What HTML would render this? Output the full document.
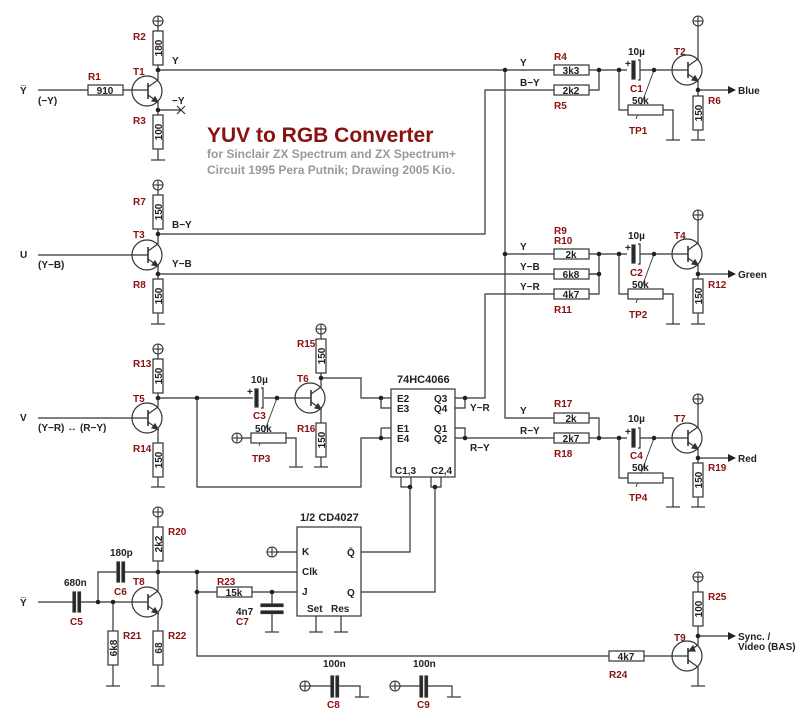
<!DOCTYPE html>
<html><head><meta charset="utf-8"><style>
html,body{margin:0;padding:0;background:#fff}
svg{display:block}
text{font-family:"Liberation Sans",Arial,sans-serif;font-weight:bold;font-size:10px;fill:#222}
.r{fill:#8b1010}
</style></head><body>
<svg width="805" height="719" viewBox="0 0 805 719" xmlns="http://www.w3.org/2000/svg">
<defs>
<g id="npn" stroke="#333" fill="none" stroke-width="1.2">
<circle cx="0" cy="0" r="15"/>
<line x1="1" y1="-8" x2="1" y2="8" stroke-width="1.6"/>
<polyline points="1,-4 11,-11 11,-20"/>
<polyline points="1,4 11,11 11,20"/>
<path d="M11,11 L5,10 L8,6 Z" fill="#333"/>
</g>
<g id="pnp" stroke="#333" fill="none" stroke-width="1.2">
<circle cx="0" cy="0" r="15"/>
<line x1="1" y1="-8" x2="1" y2="8" stroke-width="1.6"/>
<polyline points="1,-4 11,-11 11,-20"/>
<polyline points="1,4 11,11 11,30"/>
<path d="M2,-5 L8,-5 L6,-10 Z" fill="#333"/>
</g>
<g id="vcc" stroke="#333" fill="none" stroke-width="1.1">
<circle cx="0" cy="0" r="5"/><line x1="-5" y1="0" x2="5" y2="0"/><line x1="0" y1="-5" x2="0" y2="5"/>
</g>
<g id="rv" stroke="#333" fill="#fff" stroke-width="1.2"><rect x="-5" y="0" width="10" height="34"/></g>
<g id="rh" stroke="#333" fill="#fff" stroke-width="1.2"><rect x="0" y="-5" width="35" height="10"/></g>
<g id="gnd" stroke="#333" stroke-width="1.2"><line x1="-7" y1="0" x2="7" y2="0"/></g>
</defs>

<g stroke="#333" stroke-width="1.2" fill="none">
<line x1="158" y1="26" x2="158" y2="70"/>
<line x1="158" y1="110" x2="158" y2="160"/>
<line x1="38" y1="90" x2="148" y2="90"/>
<line x1="158" y1="110" x2="180" y2="110"/>
<path d="M177,106 L185,114 M177,114 L185,106"/>
<line x1="158" y1="70" x2="599" y2="70"/>
<line x1="158" y1="190" x2="158" y2="234"/>
<line x1="158" y1="274" x2="158" y2="324"/>
<line x1="38" y1="255" x2="148" y2="255"/>
<polyline points="158,234 485,234 485,90 554,90"/>
<line x1="158" y1="274" x2="599" y2="274"/>
<polyline points="505,70 505,418 554,418"/>
<line x1="505" y1="254" x2="599" y2="254"/>
<polyline points="465,398 485,398 485,294 554,294"/>
<polyline points="589,90 599,90 599,70 627,70"/>
<line x1="640" y1="70" x2="688" y2="70"/>
<polyline points="619,70 619,110 628,110"/>
<polyline points="663,110 673,110 673,140"/>
<line x1="698" y1="26" x2="698" y2="50"/>
<line x1="698" y1="90" x2="698" y2="140"/>
<line x1="698" y1="90" x2="730" y2="90"/>
<line x1="654" y1="70" x2="636" y2="119" stroke-width="0.9"/>
<polyline points="589,294 599,294 599,254 627,254"/>
<line x1="589" y1="274" x2="599" y2="274"/>
<line x1="640" y1="254" x2="688" y2="254"/>
<polyline points="619,254 619,294 628,294"/>
<polyline points="663,294 673,294 673,324"/>
<line x1="698" y1="220" x2="698" y2="234"/>
<line x1="698" y1="274" x2="698" y2="324"/>
<line x1="698" y1="274" x2="730" y2="274"/>
<line x1="654" y1="254" x2="636" y2="303" stroke-width="0.9"/>
<line x1="465" y1="438" x2="554" y2="438"/>
<polyline points="589,418 599,418 599,438 627,438"/>
<line x1="589" y1="438" x2="599" y2="438"/>
<line x1="640" y1="438" x2="688" y2="438"/>
<polyline points="619,438 619,478 628,478"/>
<polyline points="663,478 673,478 673,507"/>
<line x1="698" y1="404" x2="698" y2="418"/>
<line x1="698" y1="458" x2="698" y2="507"/>
<line x1="698" y1="458" x2="730" y2="458"/>
<line x1="654" y1="438" x2="636" y2="487" stroke-width="0.9"/>
<line x1="158" y1="354" x2="158" y2="398"/>
<line x1="158" y1="438" x2="158" y2="487"/>
<line x1="38" y1="418" x2="148" y2="418"/>
<line x1="158" y1="398" x2="253" y2="398"/>
<line x1="264" y1="398" x2="310" y2="398"/>
<line x1="321" y1="334" x2="321" y2="378"/>
<line x1="321" y1="418" x2="321" y2="467"/>
<polyline points="321,378 361,378 361,398 391,398"/>
<polyline points="381,398 381,408 391,408"/>
<polyline points="381,428 391,428"/>
<polyline points="381,428 381,438"/>
<polyline points="391,438 361,438 361,487 197,487 197,398"/>
<line x1="242" y1="438" x2="251" y2="438"/>
<polyline points="286,438 296,438 296,467"/>
<line x1="277" y1="398" x2="259" y2="446" stroke-width="0.9"/>
<polyline points="455,398 465,398 465,408 455,408"/>
<polyline points="455,428 465,428 465,438 455,438"/>
<polyline points="401,477 401,487 411,487 411,477"/>
<polyline points="431,477 431,487 441,487 441,477"/>
<polyline points="410,487 410,552 361,552"/>
<polyline points="435,487 435,592 361,592"/>
<line x1="277" y1="552" x2="297" y2="552"/>
<line x1="158" y1="572" x2="297" y2="572"/>
<line x1="197" y1="592" x2="217" y2="592"/>
<line x1="252" y1="592" x2="297" y2="592"/>
<line x1="272" y1="592" x2="272" y2="605"/>
<line x1="272" y1="614" x2="272" y2="632"/>
<line x1="316" y1="616" x2="316" y2="632"/>
<line x1="341" y1="616" x2="341" y2="632"/>
<polyline points="197,572 197,656 609,656"/>
<line x1="644" y1="656" x2="688" y2="656"/>
<line x1="158" y1="517" x2="158" y2="582"/>
<line x1="158" y1="622" x2="158" y2="686"/>
<line x1="38" y1="602" x2="73" y2="602"/>
<line x1="80" y1="602" x2="148" y2="602"/>
<polyline points="98,602 98,572 117,572"/>
<line x1="124" y1="572" x2="158" y2="572"/>
<line x1="113" y1="602" x2="113" y2="686"/>
<line x1="698" y1="582" x2="698" y2="636"/>
<line x1="698" y1="636" x2="730" y2="636"/>
<line x1="310" y1="686" x2="331" y2="686"/>
<polyline points="337,686 360,686 360,697"/>
<line x1="400" y1="686" x2="420" y2="686"/>
<polyline points="426,686 452,686 452,697"/>
</g>

<use href="#npn" x="147" y="91"/>
<use href="#npn" x="147" y="255"/>
<use href="#npn" x="147" y="418"/>
<use href="#npn" x="310" y="398"/>
<use href="#npn" x="147" y="602"/>
<use href="#npn" x="687" y="70"/>
<use href="#npn" x="687" y="254"/>
<use href="#npn" x="687" y="438"/>
<use href="#pnp" x="687" y="656"/>

<use href="#vcc" x="158" y="21"/><use href="#vcc" x="158" y="185"/><use href="#vcc" x="158" y="349"/>
<use href="#vcc" x="321" y="329"/><use href="#vcc" x="158" y="512"/><use href="#vcc" x="698" y="21"/>
<use href="#vcc" x="698" y="215"/><use href="#vcc" x="698" y="399"/><use href="#vcc" x="698" y="577"/>
<use href="#vcc" x="237" y="438"/><use href="#vcc" x="272" y="552"/><use href="#vcc" x="305" y="686"/><use href="#vcc" x="395" y="686"/>

<use href="#gnd" x="158" y="160"/><use href="#gnd" x="158" y="324"/><use href="#gnd" x="158" y="487"/>
<use href="#gnd" x="321" y="467"/><use href="#gnd" x="296" y="467"/><use href="#gnd" x="158" y="686"/>
<use href="#gnd" x="113" y="686"/><use href="#gnd" x="272" y="632"/><use href="#gnd" x="316" y="632"/><use href="#gnd" x="341" y="632"/>
<use href="#gnd" x="673" y="140"/><use href="#gnd" x="698" y="140"/><use href="#gnd" x="673" y="324"/><use href="#gnd" x="698" y="324"/>
<use href="#gnd" x="673" y="507"/><use href="#gnd" x="698" y="507"/><use href="#gnd" x="698" y="686"/>
<use href="#gnd" x="362" y="697"/><use href="#gnd" x="454" y="697"/>

<use href="#rv" x="158" y="31"/><use href="#rv" x="158" y="115"/><use href="#rv" x="158" y="195"/><use href="#rv" x="158" y="279"/>
<use href="#rv" x="158" y="359"/><use href="#rv" x="158" y="443"/><use href="#rv" x="321" y="339"/><use href="#rv" x="321" y="423"/>
<use href="#rv" x="158" y="527"/><use href="#rv" x="158" y="631"/><use href="#rv" x="113" y="631"/>
<use href="#rv" x="698" y="96"/><use href="#rv" x="698" y="279"/><use href="#rv" x="698" y="463"/><use href="#rv" x="698" y="592"/>
<use href="#rh" x="88" y="90"/><use href="#rh" x="554" y="70"/><use href="#rh" x="554" y="90"/>
<use href="#rh" x="554" y="254"/><use href="#rh" x="554" y="274"/><use href="#rh" x="554" y="294"/>
<use href="#rh" x="554" y="418"/><use href="#rh" x="554" y="438"/>
<use href="#rh" x="628" y="110"/><use href="#rh" x="628" y="294"/><use href="#rh" x="628" y="478"/>
<use href="#rh" x="251" y="438"/><use href="#rh" x="217" y="592"/><use href="#rh" x="609" y="656"/>

<g fill="#222" stroke="#333" stroke-width="1.2">
<rect x="632" y="61" width="3" height="18"/><path d="M638,60 L640,60 L640,80 L638,80" fill="none"/>
<rect x="632" y="245" width="3" height="18"/><path d="M638,244 L640,244 L640,264 L638,264" fill="none"/>
<rect x="632" y="429" width="3" height="18"/><path d="M638,428 L640,428 L640,448 L638,448" fill="none"/>
<rect x="255" y="389" width="3" height="18"/><path d="M261,388 L263,388 L263,408 L261,408" fill="none"/>
<rect x="73" y="592" width="2.5" height="20"/><rect x="78" y="592" width="2.5" height="20"/>
<rect x="117" y="562" width="2.5" height="20"/><rect x="122" y="562" width="2.5" height="20"/>
<rect x="331" y="676" width="2.5" height="21"/><rect x="336" y="676" width="2.5" height="21"/>
<rect x="420" y="676" width="2.5" height="21"/><rect x="425" y="676" width="2.5" height="21"/>
<rect x="261" y="604" width="22" height="2.5"/><rect x="261" y="611" width="22" height="2.5"/>
</g>
<g><text x="625" y="67">+</text><text x="625" y="251">+</text><text x="625" y="435">+</text><text x="247" y="395">+</text></g>

<rect x="391" y="389" width="64" height="88" fill="#fff" stroke="#333" stroke-width="1.2"/>
<rect x="297" y="527" width="64" height="89" fill="#fff" stroke="#333" stroke-width="1.2"/>

<g fill="#222"><path d="M728,86 L736,90 L728,94Z"/><path d="M728,270 L736,274 L728,278Z"/><path d="M728,454 L736,458 L728,462Z"/><path d="M728,632 L736,636 L728,640Z"/></g>

<g fill="#222">
<circle cx="158" cy="70" r="2.3"/><circle cx="158" cy="110" r="2.3"/><circle cx="158" cy="234" r="2.3"/><circle cx="158" cy="274" r="2.3"/>
<circle cx="505" cy="70" r="2.3"/><circle cx="599" cy="70" r="2.3"/><circle cx="619" cy="70" r="2.3"/><circle cx="654" cy="70" r="2.3"/><circle cx="698" cy="90" r="2.3"/>
<circle cx="505" cy="254" r="2.3"/><circle cx="599" cy="254" r="2.3"/><circle cx="599" cy="274" r="2.3"/><circle cx="619" cy="254" r="2.3"/><circle cx="654" cy="254" r="2.3"/><circle cx="698" cy="274" r="2.3"/>
<circle cx="599" cy="438" r="2.3"/><circle cx="619" cy="438" r="2.3"/><circle cx="654" cy="438" r="2.3"/><circle cx="698" cy="458" r="2.3"/>
<circle cx="465" cy="398" r="2.3"/><circle cx="465" cy="438" r="2.3"/>
<circle cx="158" cy="398" r="2.3"/><circle cx="197" cy="398" r="2.3"/><circle cx="277" cy="398" r="2.3"/><circle cx="321" cy="378" r="2.3"/>
<circle cx="381" cy="398" r="2.3"/><circle cx="381" cy="438" r="2.3"/><circle cx="410" cy="487" r="2.3"/><circle cx="435" cy="487" r="2.3"/>
<circle cx="158" cy="572" r="2.3"/><circle cx="197" cy="572" r="2.3"/><circle cx="197" cy="592" r="2.3"/><circle cx="272" cy="592" r="2.3"/>
<circle cx="98" cy="602" r="2.3"/><circle cx="113" cy="602" r="2.3"/><circle cx="698" cy="636" r="2.3"/>
</g>

<g>
<text transform="translate(162,48) rotate(-90)" text-anchor="middle">180</text>
<text transform="translate(162,132) rotate(-90)" text-anchor="middle">100</text>
<text transform="translate(162,212) rotate(-90)" text-anchor="middle">150</text>
<text transform="translate(162,296) rotate(-90)" text-anchor="middle">150</text>
<text transform="translate(162,376) rotate(-90)" text-anchor="middle">150</text>
<text transform="translate(162,460) rotate(-90)" text-anchor="middle">150</text>
<text transform="translate(325,356) rotate(-90)" text-anchor="middle">150</text>
<text transform="translate(325,440) rotate(-90)" text-anchor="middle">150</text>
<text transform="translate(162,544) rotate(-90)" text-anchor="middle">2k2</text>
<text transform="translate(162,648) rotate(-90)" text-anchor="middle">68</text>
<text transform="translate(117,648) rotate(-90)" text-anchor="middle">6k8</text>
<text transform="translate(702,113) rotate(-90)" text-anchor="middle">150</text>
<text transform="translate(702,296) rotate(-90)" text-anchor="middle">150</text>
<text transform="translate(702,480) rotate(-90)" text-anchor="middle">150</text>
<text transform="translate(702,609) rotate(-90)" text-anchor="middle">100</text>
</g>
<g text-anchor="middle">
<text x="105" y="94">910</text><text x="571" y="74">3k3</text><text x="571" y="94">2k2</text>
<text x="571" y="258">2k</text><text x="571" y="278">6k8</text><text x="571" y="298">4k7</text>
<text x="571" y="422">2k</text><text x="571" y="442">2k7</text><text x="234" y="596">15k</text><text x="626" y="660">4k7</text>
</g>

<g>
<text class="r" x="88" y="80">R1</text><text class="r" x="133" y="40">R2</text><text class="r" x="133" y="124">R3</text><text class="r" x="133" y="75">T1</text>
<text class="r" x="133" y="205">R7</text><text class="r" x="133" y="288">R8</text><text class="r" x="133" y="238">T3</text>
<text class="r" x="133" y="367">R13</text><text class="r" x="133" y="402">T5</text><text class="r" x="133" y="452">R14</text>
<text class="r" x="297" y="347">R15</text><text class="r" x="297" y="382">T6</text><text class="r" x="297" y="432">R16</text>
<text class="r" x="253" y="419">C3</text><text class="r" x="252" y="462">TP3</text>
<text class="r" x="554" y="60">R4</text><text class="r" x="554" y="109">R5</text><text class="r" x="630" y="92">C1</text><text class="r" x="629" y="134">TP1</text><text class="r" x="674" y="55">T2</text><text class="r" x="708" y="104">R6</text>
<text class="r" x="554" y="234">R9</text><text class="r" x="554" y="244">R10</text><text class="r" x="554" y="313">R11</text><text class="r" x="630" y="276">C2</text><text class="r" x="629" y="318">TP2</text><text class="r" x="674" y="239">T4</text><text class="r" x="708" y="288">R12</text>
<text class="r" x="554" y="407">R17</text><text class="r" x="554" y="457">R18</text><text class="r" x="630" y="459">C4</text><text class="r" x="629" y="501">TP4</text><text class="r" x="674" y="422">T7</text><text class="r" x="708" y="471">R19</text>
<text class="r" x="168" y="535">R20</text><text class="r" x="123" y="639">R21</text><text class="r" x="168" y="639">R22</text><text class="r" x="217" y="585">R23</text>
<text class="r" x="70" y="625">C5</text><text class="r" x="114" y="595">C6</text><text class="r" x="133" y="585">T8</text><text class="r" x="236" y="625">C7</text>
<text class="r" x="609" y="678">R24</text><text class="r" x="674" y="641">T9</text><text class="r" x="708" y="600">R25</text>
<text class="r" x="327" y="708">C8</text><text class="r" x="417" y="708">C9</text>
</g>

<text x="20" y="94">Y&#773;</text><text x="38" y="104">(−Y)</text><text x="172" y="64">Y</text><text x="172" y="104">−Y</text>
<text x="20" y="258">U</text><text x="38" y="268">(Y−B)</text><text x="172" y="228">B−Y</text><text x="172" y="267">Y−B</text>
<text x="20" y="421">V</text><text x="38" y="431">(Y−R) ↔ (R−Y)</text>
<text x="20" y="606">Y&#773;</text><text x="64" y="586">680n</text><text x="110" y="556">180p</text><text x="236" y="615">4n7</text>
<text x="251" y="383">10µ</text><text x="255" y="432">50k</text>
<text x="520" y="66">Y</text><text x="520" y="86">B−Y</text><text x="628" y="55">10µ</text><text x="632" y="104">50k</text><text x="738" y="94">Blue</text>
<text x="520" y="250">Y</text><text x="520" y="270">Y−B</text><text x="520" y="290">Y−R</text><text x="628" y="239">10µ</text><text x="632" y="288">50k</text><text x="738" y="278">Green</text>
<text x="520" y="414">Y</text><text x="520" y="434">R−Y</text><text x="470" y="411">Y−R</text><text x="470" y="451">R−Y</text><text x="628" y="422">10µ</text><text x="632" y="471">50k</text><text x="738" y="462">Red</text>
<text x="738" y="640">Sync. /</text><text x="738" y="650">Video (BAS)</text>
<text x="397" y="383" style="font-size:11px">74HC4066</text>
<text x="397" y="402">E2</text><text x="397" y="412">E3</text><text x="397" y="432">E1</text><text x="397" y="442">E4</text>
<text x="434" y="402">Q3</text><text x="434" y="412">Q4</text><text x="434" y="432">Q1</text><text x="434" y="442">Q2</text>
<text x="395" y="474">C1,3</text><text x="431" y="474">C2,4</text>
<text x="300" y="521" style="font-size:11px">1/2 CD4027</text>
<text x="302" y="555">K</text><text x="347" y="556">Q&#772;</text><text x="302" y="575">Clk</text><text x="302" y="595">J</text><text x="347" y="596">Q</text>
<text x="307" y="612">Set</text><text x="331" y="612">Res</text>
<text x="323" y="667">100n</text><text x="413" y="667">100n</text>

<text x="207" y="142" style="font-size:21px;fill:#8b1010">YUV to RGB Converter</text>
<text x="207" y="158" style="font-size:12px;fill:#999">for Sinclair ZX Spectrum and ZX Spectrum+</text>
<text x="207" y="174" style="font-size:12px;fill:#999">Circuit 1995 Pera Putnik; Drawing 2005 Kio.</text>
</svg>
</body></html>
